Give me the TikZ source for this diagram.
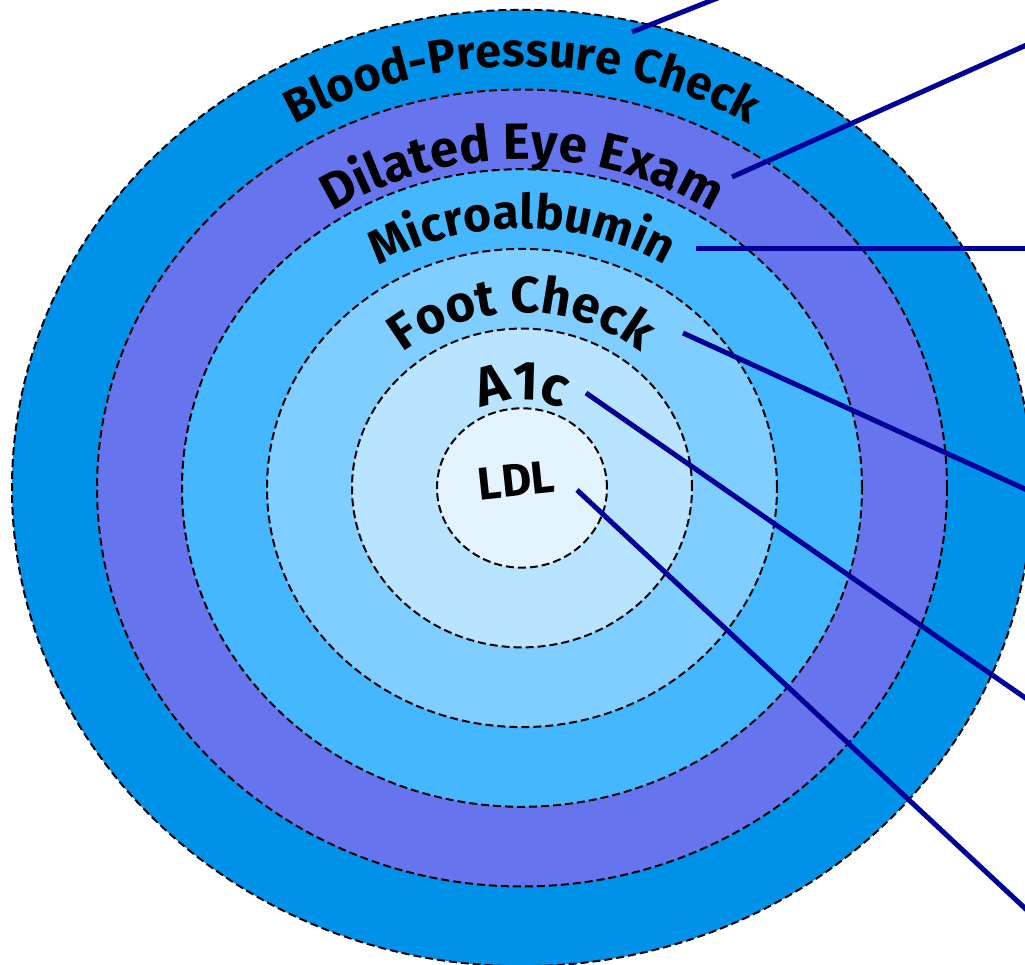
\documentclass[tikz,border=0pt]{standalone}
\usepackage{fontspec}
\setmainfont{Fira Sans}
\usetikzlibrary{decorations.text}
\definecolor{ringA}{RGB}{228,244,255}
\definecolor{ringB}{RGB}{184,228,255}
\definecolor{ringC}{RGB}{128,205,255}
\definecolor{ringD}{RGB}{69,183,255}
\definecolor{ringE}{RGB}{102,116,238}
\definecolor{ringF}{RGB}{0,145,232}
\definecolor{leadblue}{RGB}{0,0,153}
\begin{document}
\begin{tikzpicture}[x=1pt,y=1pt,
  ring/.style={draw=black,line width=2pt,dash pattern=on 8pt off 4pt},
  lead/.style={draw=leadblue,line width=5pt},
  arclabel/.style={decorate,decoration={text along path,text align=center}}]
  \def\rx{85}\def\ry{79.7}
  \useasboundingbox (0,0) rectangle (1025,965);
  \clip (0,0) rectangle (1025,965);
  \coordinate (ctr) at (522,477);
  \foreach \k/\col in {6/ringF,5/ringE,4/ringD,3/ringC,2/ringB,1/ringA}
    \path[ring,fill=\col] (ctr) ellipse[x radius=\rx*\k,y radius=\ry*\k];
  \path[arclabel,decoration={text={|\fontsize{47}{47}\selectfont\bfseries|Blood-Pressure Check}}]
    (ctr) ++(180:{\rx*5.29} and {\ry*5.29}) arc[start angle=180,end angle=0,x radius=\rx*5.29,y radius=\ry*5.29];
  \path[arclabel,decoration={text={|\fontsize{51}{51}\selectfont\bfseries|Dilated Eye Exam}}]
    (ctr) ++(180:{\rx*4.12} and {\ry*4.12}) arc[start angle=180,end angle=0,x radius=\rx*4.12,y radius=\ry*4.12];
  \path[arclabel,decoration={text={|\fontsize{48}{48}\selectfont\bfseries|Microalbumin}}]
    (ctr) ++(180:{\rx*3.26} and {\ry*3.26}) arc[start angle=180,end angle=0,x radius=\rx*3.26,y radius=\ry*3.26];
  \path[arclabel,decoration={text={|\fontsize{51}{51}\selectfont\bfseries|Foot Check}}]
    (ctr) ++(180:{\rx*2.2} and {\ry*2.2}) arc[start angle=180,end angle=0,x radius=\rx*2.2,y radius=\ry*2.2];
  \path[arclabel,decoration={text={|\fontsize{55}{55}\selectfont\bfseries|A1c}}]
    (ctr) ++(180:{\rx*1.1} and {\ry*1.1}) arc[start angle=180,end angle=0,x radius=\rx*1.1,y radius=\ry*1.1];
  \node[anchor=base,rotate=6,font=\fontsize{46}{46}\selectfont\bfseries,inner sep=0pt] (ldl) at (518,469) {LDL};
  \coordinate (bpcheck) at (632,933);  \coordinate (bpcheck-end) at (753,981);
  \coordinate (eyeexam) at (732,788);  \coordinate (eyeexam-end) at (1060,935);
  \coordinate (microalb) at (696,716); \coordinate (microalb-end) at (1060,716);
  \coordinate (footcheck) at (683,632); \coordinate (footcheck-end) at (1060,460);
  \coordinate (aonec) at (586,572);    \coordinate (aonec-end) at (1060,243);
  \coordinate (ldl-start) at (577,475); \coordinate (ldl-end) at (1060,24);
  \draw[lead] (bpcheck) -- (bpcheck-end);
  \draw[lead] (eyeexam) -- (eyeexam-end);
  \draw[lead] (microalb) -- (microalb-end);
  \draw[lead] (footcheck) -- (footcheck-end);
  \draw[lead] (aonec) -- (aonec-end);
  \draw[lead] (ldl-start) -- (ldl-end);
\end{tikzpicture}
\end{document}
